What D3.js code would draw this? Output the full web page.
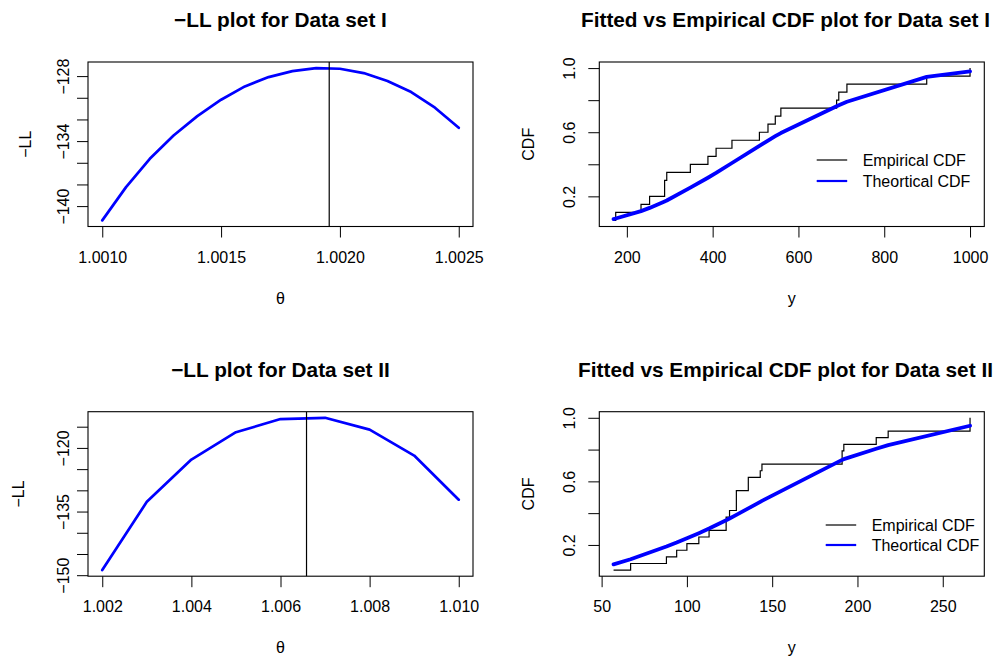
<!DOCTYPE html>
<html>
<head>
<meta charset="utf-8">
<script src="https://cdn.jsdelivr.net/npm/d3@7"></script>
<style>
  body { margin: 0; background: #fff; }
  svg { display: block; font-family: "Liberation Sans", Arial, Helvetica, sans-serif; }
</style>
</head>
<body>
<div id="chart"></div>
<script>
// -LL profile for data set I
const thetaI = [1.0010, 1.0011, 1.0012, 1.0013, 1.0014, 1.0015, 1.0016, 1.0017,
                1.0018, 1.0019, 1.0020, 1.0021, 1.0022, 1.0023, 1.0024, 1.0025];
const llI = [-141.32, -138.25, -135.63, -133.48, -131.69, -130.18, -128.95, -128.09,
             -127.54, -127.26, -127.32, -127.72, -128.46, -129.47, -130.92, -132.77];
const mleI = 1.001955;

// -LL profile for data set II
const thetaII = [1.002, 1.003, 1.004, 1.005, 1.006, 1.007, 1.008, 1.009, 1.010];
const llII = [-148.8, -132.7, -122.75, -116.3, -113.2, -112.9, -115.7, -121.8, -132.2];
const mleII = 1.006584;

// sorted observations and fitted CDF, data set I (n = 20)
const yI = [169, 174, 233, 253, 288, 288, 293, 348, 389, 408,
            445, 509, 529, 546, 559, 689, 694, 713, 899, 1000];
const fitI = [0.058, 0.062, 0.108, 0.128, 0.168, 0.168, 0.174, 0.254, 0.316, 0.346,
              0.408, 0.515, 0.548, 0.575, 0.595, 0.762, 0.768, 0.790, 0.945, 0.980];

// sorted observations and fitted CDF, data set II (n = 24)
const yII = [57, 67, 88, 94, 100, 107, 113, 123, 123, 125, 129, 129,
             129, 136, 136, 143, 144, 191, 191, 192, 211, 218, 266, 266];
const fitII = [0.078, 0.110, 0.190, 0.215, 0.242, 0.274, 0.303, 0.355, 0.355, 0.366, 0.389, 0.389,
               0.389, 0.430, 0.430, 0.471, 0.477, 0.735, 0.735, 0.740, 0.805, 0.828, 0.950, 0.950];

// tick values, and the ones R kept a label for
const xTicksI = [1.0010, 1.0015, 1.0020, 1.0025];
const xTicksII = [1.002, 1.004, 1.006, 1.008, 1.010];
const yTicksLLI = [-140, -138, -136, -134, -132, -130, -128];
const yLabelsLLI = [-140, -134, -128];
const yTicksLLII = [-150, -145, -140, -135, -130, -125, -120, -115];
const yLabelsLLII = [-150, -135, -120];
const xTicksCdfI = [200, 400, 600, 800, 1000];
const xTicksCdfII = [50, 100, 150, 200, 250];
const yTicksCdf = [0.2, 0.4, 0.6, 0.8, 1.0];
const yLabelsCdf = [0.2, 0.6, 1.0];
const legendLabels = ["Empirical CDF", "Theortical CDF"];

const width = 995, height = 657;
const colLeft = [88, 599.3], rowTop = [62, 411.7];
const plotW = 385, plotH = 164.5;
const tickGap = [19.5, 24.5];
const titleShift = [0, -6.3];

const svg = d3.select("#chart").append("svg")
  .attr("width", width).attr("height", height);

// R pads the data range by 4% on each side
function rRange(values) {
  const [a, b] = d3.extent(values);
  const p = (b - a) * 0.04;
  return [a - p, b + p];
}

function panel(cfg) {
  const g = svg.append("g")
    .attr("transform", "translate(" + colLeft[cfg.col] + "," + rowTop[cfg.row] + ")");

  const x = d3.scaleLinear().domain(cfg.xDomain).range([0, plotW]);
  const y = d3.scaleLinear().domain(cfg.yDomain).range([plotH, 0]);

  // x axis
  const xa = g.append("g")
    .attr("transform", "translate(0," + plotH + ")")
    .call(d3.axisBottom(x).tickValues(cfg.xTicks).tickFormat(cfg.xFmt)
      .tickSize(11).tickSizeOuter(0));
  xa.select(".domain").remove();
  xa.attr("font-size", 16).attr("font-family", null);
  xa.selectAll(".tick line").attr("stroke", "#000");
  xa.selectAll(".tick text").attr("y", 36).attr("dy", null).attr("fill", "#000");

  // y axis, labels turned like R's las = 0
  const ya = g.append("g")
    .call(d3.axisLeft(y).tickValues(cfg.yTicks)
      .tickFormat(d => cfg.yLabels.includes(d) ? cfg.yFmt(d) : "")
      .tickSize(11).tickSizeOuter(0));
  ya.select(".domain").remove();
  ya.attr("font-size", 16).attr("font-family", null);
  ya.selectAll(".tick line").attr("stroke", "#000");
  ya.selectAll(".tick text")
    .attr("transform", "rotate(-90)")
    .attr("x", 0).attr("y", -tickGap[cfg.col]).attr("dy", null)
    .attr("text-anchor", "middle").attr("fill", "#000");

  // marks
  const clip = "clip-" + cfg.col + cfg.row;
  g.append("clipPath").attr("id", clip)
    .append("rect").attr("width", plotW).attr("height", plotH);
  const marks = g.append("g").attr("clip-path", "url(#" + clip + ")");
  cfg.draw(marks, x, y);

  // box
  g.append("rect").attr("width", plotW).attr("height", plotH)
    .attr("fill", "none").attr("stroke", "#000").attr("stroke-width", 1.1);

  // titles
  g.append("text").attr("x", plotW / 2 + titleShift[cfg.col]).attr("y", -35)
    .attr("text-anchor", "middle").attr("font-weight", "bold").attr("font-size", 20.8)
    .text(cfg.title);
  g.append("text").attr("x", plotW / 2).attr("y", plotH + 77)
    .attr("text-anchor", "middle").attr("font-size", 16)
    .text(cfg.xlab);
  g.append("text").attr("transform", "rotate(-90)")
    .attr("x", -plotH / 2).attr("y", -cfg.ylabGap)
    .attr("text-anchor", "middle").attr("font-size", 16)
    .text(cfg.ylab);

  if (cfg.legend) {
    const L = cfg.legend;
    const lg = g.append("g").attr("font-size", 16);
    [["#000", 1.2], ["#0000ff", 2.2]].forEach((s, i) => {
      const yy = L.top + i * L.gap;
      lg.append("line").attr("x1", L.left).attr("x2", L.left + 30.5)
        .attr("y1", yy).attr("y2", yy)
        .attr("stroke", s[0]).attr("stroke-width", s[1]);
      lg.append("text").attr("x", L.left + 46).attr("y", yy + 5.7)
        .text(legendLabels[i]);
    });
  }
}

function llDraw(theta, ll, mle) {
  return function (g, x, y) {
    g.append("path").datum(d3.zip(theta, ll))
      .attr("d", d3.line().x(d => x(d[0])).y(d => y(d[1])))
      .attr("fill", "none").attr("stroke", "#0000ff").attr("stroke-width", 2.7)
      .attr("stroke-linejoin", "round").attr("stroke-linecap", "round");
    g.append("line").attr("x1", x(mle)).attr("x2", x(mle))
      .attr("y1", 0).attr("y2", plotH)
      .attr("stroke", "#000").attr("stroke-width", 1.2);
  };
}

function cdfDraw(obs, fit) {
  return function (g, x, y) {
    const n = obs.length;
    const emp = obs.map((v, i) => [v, (i + 1) / n]);
    g.append("path").datum(emp)
      .attr("d", d3.line().x(d => x(d[0])).y(d => y(d[1])).curve(d3.curveStepAfter))
      .attr("fill", "none").attr("stroke", "#000").attr("stroke-width", 1.2);
    g.append("path").datum(d3.zip(obs, fit))
      .attr("d", d3.line().x(d => x(d[0])).y(d => y(d[1])))
      .attr("fill", "none").attr("stroke", "#0000ff").attr("stroke-width", 3.8)
      .attr("stroke-linejoin", "round").attr("stroke-linecap", "round");
  };
}

const intFmt = d3.format("d");
const cdfFmt = d3.format(".1f");

panel({
  col: 0, row: 0, title: "\u2212LL plot for Data set I", xlab: "\u03b8", ylab: "\u2212LL", ylabGap: 57,
  xDomain: rRange(thetaI), yDomain: rRange(llI),
  xTicks: xTicksI, xFmt: d3.format(".4f"),
  yTicks: yTicksLLI, yLabels: yLabelsLLI, yFmt: intFmt,
  draw: llDraw(thetaI, llI, mleI)
});

panel({
  col: 1, row: 0, title: "Fitted vs Empirical CDF plot for Data set I", xlab: "y", ylab: "CDF", ylabGap: 65,
  xDomain: rRange(yI), yDomain: rRange(fitI.concat([1 / yI.length, 1])),
  xTicks: xTicksCdfI, xFmt: intFmt,
  yTicks: yTicksCdf, yLabels: yLabelsCdf, yFmt: cdfFmt,
  draw: cdfDraw(yI, fitI),
  legend: { left: 217.4, top: 98, gap: 21 }
});

panel({
  col: 0, row: 1, title: "\u2212LL plot for Data set II", xlab: "\u03b8", ylab: "\u2212LL", ylabGap: 64,
  xDomain: rRange(thetaII), yDomain: rRange(llII),
  xTicks: xTicksII, xFmt: d3.format(".3f"),
  yTicks: yTicksLLII, yLabels: yLabelsLLII, yFmt: intFmt,
  draw: llDraw(thetaII, llII, mleII)
});

panel({
  col: 1, row: 1, title: "Fitted vs Empirical CDF plot for Data set II", xlab: "y", ylab: "CDF", ylabGap: 65,
  xDomain: rRange(yII), yDomain: rRange(fitII.concat([1 / yII.length, 1])),
  xTicks: xTicksCdfII, xFmt: intFmt,
  yTicks: yTicksCdf, yLabels: yLabelsCdf, yFmt: cdfFmt,
  draw: cdfDraw(yII, fitII),
  legend: { left: 226.4, top: 113.3, gap: 20 }
});
</script>
</body>
</html>
